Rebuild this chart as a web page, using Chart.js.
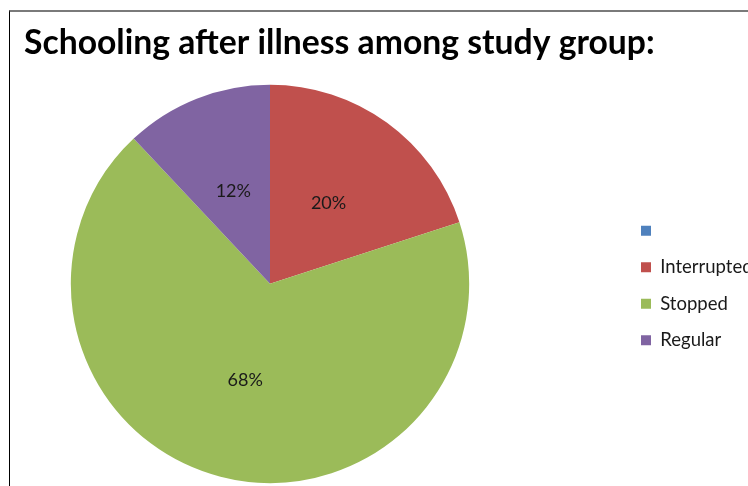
<!DOCTYPE html>
<html>
<head>
<meta charset="utf-8">
<script src="https://cdn.jsdelivr.net/npm/chart.js@4.4.1/dist/chart.umd.min.js"></script>
<style>
  html, body { margin: 0; padding: 0; background: #fff; overflow: hidden; }
  #wrap { position: relative; width: 748px; height: 486px; overflow: hidden; }
  #frame { position: absolute; left: 9px; top: 10px; width: 800px; height: 500px;
           border-top: 2px solid #7a7a7a; border-left: 1.5px solid #000; box-sizing: border-box; }
  canvas { position: absolute; left: 0; top: 0; }
</style>
</head>
<body>
<div id="wrap">
  <div id="frame"></div>
  <canvas id="c" width="748" height="486"></canvas>
</div>
<script>
const titleText = 'Schooling after illness among study group:';
const categories = ['', 'Interrupted', 'Stopped', 'Regular'];
const percentages = [0, 20, 68, 12];
const colors = ['#4F81BD', '#C0504D', '#9BBB59', '#8064A2'];

const legendGap = {
  id: 'legendGap',
  beforeInit(chart) {
    const box = {
      position: 'right', weight: 500, fullSize: false,
      options: { display: true, stackWeight: 1 },
      left: 0, top: 0, right: 0, bottom: 0, width: 0, height: 0,
      isHorizontal() { return false; },
      update(maxWidth, maxHeight) { this.width = 107; this.height = maxHeight; },
      draw() {}
    };
    Chart.layouts.addBox(chart, box);
  }
};

const pctLabels = {
  id: 'pctLabels',
  afterDatasetsDraw(chart) {
    const ctx = chart.ctx;
    const meta = chart.getDatasetMeta(0);
    ctx.save();
    ctx.font = '18px Lato';
    ctx.fillStyle = '#1a1a1a';
    ctx.textAlign = 'center';
    ctx.textBaseline = 'middle';
    meta.data.forEach((arc, i) => {
      const v = percentages[i];
      if (!v) return;
      const p = arc.tooltipPosition();
      ctx.fillText(v + '%', p.x, p.y);
    });
    ctx.restore();
  }
};

new Chart(document.getElementById('c'), {
  type: 'pie',
  data: {
    labels: categories,
    datasets: [{
      data: percentages,
      backgroundColor: colors,
      borderWidth: 0
    }]
  },
  options: {
    responsive: false,
    animation: false,
    layout: { padding: { left: 24, top: 0, right: 0, bottom: 3 } },
    plugins: {
      title: {
        display: true,
        text: titleText,
        align: 'start',
        color: '#000',
        font: { family: 'Lato', size: 33.7, weight: 'bold' },
        padding: { top: 23, bottom: 21.2 }
      },
      legend: {
        position: 'right',
        maxWidth: 125,
        title: {
          display: true,
          text: '',
          font: { family: 'Lato', size: 10, lineHeight: 1 },
          padding: { top: 0, bottom: 78 }
        },
        labels: {
          boxWidth: 10,
          boxHeight: 10,
          padding: 18,
          color: '#1a1a1a',
          font: { family: 'Lato', size: 18.5 }
        }
      },
      tooltip: { enabled: false }
    }
  },
  plugins: [legendGap, pctLabels]
});
</script>
</body>
</html>
